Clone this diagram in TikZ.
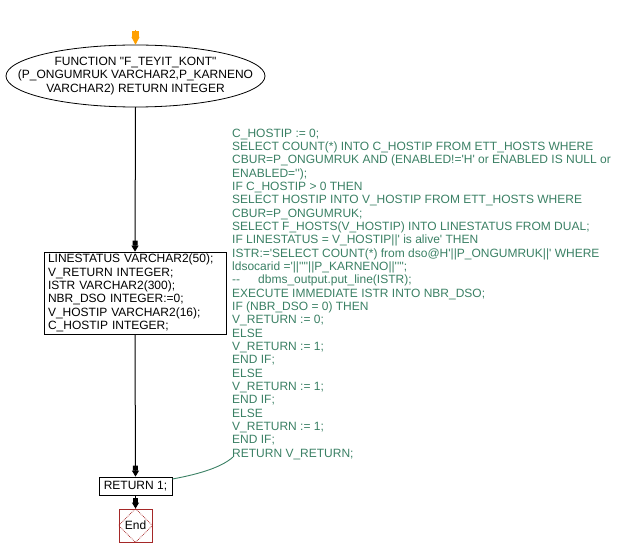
\documentclass[tikz,border=0pt]{standalone}
\usepackage{fontspec}
\setmainfont{Liberation Sans}[Ligatures=TeXOff]
\usetikzlibrary{arrows.meta,shapes.geometric,calc}
\definecolor{codegreen}{RGB}{58,128,100}
\definecolor{endred}{RGB}{165,40,40}
\definecolor{startorange}{RGB}{255,160,0}
\begin{document}
\begin{tikzpicture}[x=1pt,y=-1pt,
  every node/.style={font=\fontsize{12}{13.33}\selectfont, inner sep=0pt},
  flow/.style={line width=1pt, -{Rectangle[width=5pt,length=5pt,sep=0pt] Triangle[width=7pt,length=6pt]}},
  procbox/.style={draw, line width=0.8pt, rectangle},
  comment/.style={text=codegreen, anchor=base west, align=left},
  commentline/.style={draw=codegreen, line width=0.9pt}
]
\useasboundingbox (0,0) rectangle (624,556);

% start / function ellipse
\node[rectangle, minimum width=259pt, minimum height=62pt, align=center] (func) at (135.5,76)
  {FUNCTION "F\_TEYIT\_KONT"\\(P\_ONGUMRUK VARCHAR2,P\_KARNENO\\VARCHAR2) RETURN INTEGER};
\draw[line width=0.8pt] (func.center) ellipse [x radius=129.5pt, y radius=31pt];
\coordinate (startpt) at (135.5,30);
\draw[line width=1.2pt, draw=startorange, fill=startorange, -{Rectangle[width=7pt,length=6pt,sep=0pt] Triangle[width=8pt,length=8pt]}] (startpt) -- (func.north);

% declarations
\node[procbox, minimum width=182pt, minimum height=82pt, text width=174pt, inner xsep=4pt, align=left] (decl) at (135,293)
  {LINESTATUS VARCHAR2(50);\\V\_RETURN INTEGER;\\ISTR VARCHAR2(300);\\NBR\_DSO INTEGER:=0;\\V\_HOSTIP VARCHAR2(16);\\C\_HOSTIP INTEGER;};

% return
\node[procbox, minimum width=73pt, minimum height=18pt] (ret) at (135.5,486) {RETURN 1;};

% end
\node[draw=endred, line width=0.8pt, rectangle, minimum width=33pt, minimum height=33pt] (endn) at (135.5,525.5) {End};
\draw[endred, densely dotted, line width=0.8pt] (endn.north) -- (endn.east) -- (endn.south) -- (endn.west) -- cycle;

% connectors
\draw[flow] (func.south) -- (decl.north);
\draw[flow] (decl.south) -- (ret.north);
\draw[flow] (ret.south) -- (endn.north);

% comment text
\node[comment] (code) at (232,137.3) {\begin{tabular}[t]{@{}l@{}}
C\_HOSTIP := 0;\\
SELECT COUNT(*) INTO C\_HOSTIP FROM ETT\_HOSTS WHERE\\
CBUR=P\_ONGUMRUK AND (ENABLED!='H' or ENABLED IS NULL or\\
ENABLED='');\\
IF C\_HOSTIP > 0 THEN\\
SELECT HOSTIP INTO V\_HOSTIP FROM ETT\_HOSTS WHERE\\
CBUR=P\_ONGUMRUK;\\
SELECT F\_HOSTS(V\_HOSTIP) INTO LINESTATUS FROM DUAL;\\
IF LINESTATUS = V\_HOSTIP||' is alive' THEN\\
ISTR:='SELECT COUNT(*) from dso@H'||P\_ONGUMRUK||' WHERE\\
ldsocarid ='||''''||P\_KARNENO||'''';\\
--\hspace{18pt}dbms\_output.put\_line(ISTR);\\
EXECUTE IMMEDIATE ISTR INTO NBR\_DSO;\\
IF (NBR\_DSO = 0) THEN\\
V\_RETURN := 0;\\
ELSE\\
V\_RETURN := 1;\\
END IF;\\
ELSE\\
V\_RETURN := 1;\\
END IF;\\
ELSE\\
V\_RETURN := 1;\\
END IF;\\
RETURN V\_RETURN;
\end{tabular}};

\coordinate (cend) at (233,457);
\draw[commentline] ($(ret.east)+(0,-7)$) .. controls (200,474) and (222,467) .. (cend);
\end{tikzpicture}
\end{document}
